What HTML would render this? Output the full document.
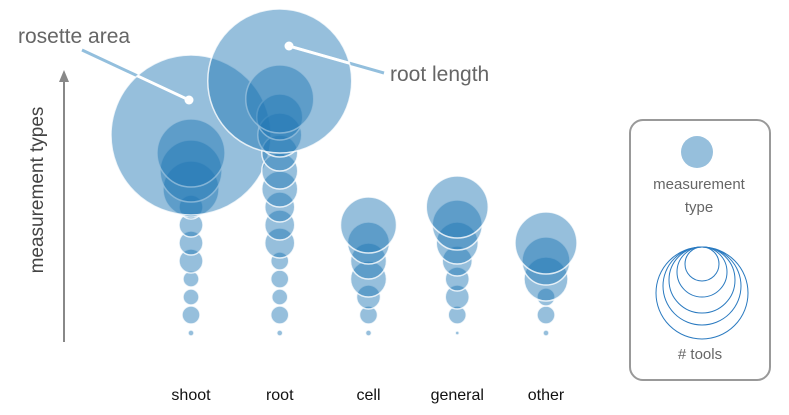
<!DOCTYPE html>
<html><head><meta charset="utf-8"><style>
body{margin:0;background:#fff}
svg{display:block;font-family:"Liberation Sans",sans-serif}
</style></head><body>
<svg id="chart" width="789" height="415">
<defs>
<clipPath id="clipRos"><circle id="cr" cx="0" cy="0" r="0"/></clipPath>
<clipPath id="clipRoot"><circle id="ct" cx="0" cy="0" r="0"/></clipPath>
</defs>
<line x1="64" y1="342" x2="64" y2="80" stroke="#888" stroke-width="2"/>
<polygon points="64,70 59,82 69,82" fill="#888"/>
<text x="43" y="190" transform="rotate(-90 43 190)" text-anchor="middle" font-size="19" fill="#444">measurement types</text>
<line x1="82" y1="50" x2="189" y2="100" stroke="#93bfdd" stroke-width="3"/>
<line x1="289" y1="46" x2="384" y2="73" stroke="#93bfdd" stroke-width="3"/>
<g id="marks"></g>
<g clip-path="url(#clipRos)"><line x1="82" y1="50" x2="189" y2="100" stroke="#fff" stroke-width="3"/></g>
<g clip-path="url(#clipRoot)"><line x1="289" y1="46" x2="384" y2="73" stroke="#fff" stroke-width="3"/></g>
<circle cx="189" cy="100" r="4.5" fill="#fff"/>
<circle cx="289" cy="46" r="4.5" fill="#fff"/>
<text x="18" y="43" font-size="21" fill="#666">rosette area</text>
<text x="390" y="81" font-size="21" fill="#666">root length</text>
<g id="xlabels" font-size="16" fill="#111" text-anchor="middle"></g>
<g>
<rect x="630" y="120" width="140" height="260" rx="13" fill="none" stroke="#999" stroke-width="2"/>
<circle cx="697" cy="152" r="16" fill="#1f77b4" fill-opacity="0.47"/>
<text x="699" y="189" font-size="15" fill="#666" text-anchor="middle">measurement</text>
<text x="699" y="212" font-size="15" fill="#666" text-anchor="middle">type</text>
<g fill="none" stroke="#2a7ac0" stroke-width="1">
<circle cx="702" cy="293" r="46"/>
<circle cx="702" cy="286" r="39"/>
<circle cx="702" cy="280" r="33"/>
<circle cx="702" cy="272" r="25"/>
<circle cx="702" cy="264" r="17"/>
</g>
<text x="700" y="359" font-size="15" fill="#666" text-anchor="middle"># tools</text>
</g>
</svg>
<script>
const categories = ["shoot","root","cell","general","other"];
// bubble sizes (radius units) per measurement type, bottom to top
const shootSizes = [3,9,8,8,12,12,12,12,28,31,34,80];
const rootSizes = [3,9,8,9,9,15,15,15,18,18,18,22,23,34,72];
const cellSizes = [3,9,12,18,18,21,28];
const generalSizes = [2,9,12,12,15,21,25,31];
const otherSizes = [3,9,9,22,24,31];
const series = [shootSizes,rootSizes,cellSizes,generalSizes,otherSizes];

const xScale = i => 191 + i*88.75;
const yScale = k => 333 - k*18;
const rScale = v => v;
const NS = "http://www.w3.org/2000/svg";
const g = document.getElementById("marks");
const xl = document.getElementById("xlabels");
series.forEach((arr, i) => {
  arr.forEach((v, k) => {
    const c = document.createElementNS(NS, "circle");
    c.setAttribute("cx", xScale(i));
    c.setAttribute("cy", yScale(k));
    c.setAttribute("r", rScale(v));
    c.setAttribute("fill", "#1f77b4");
    c.setAttribute("fill-opacity", "0.47");
    c.setAttribute("stroke", "#fff");
    c.setAttribute("stroke-opacity", "0.8");
    c.setAttribute("stroke-width", "1.5");
    
    
    g.appendChild(c);
  });
  const t = document.createElementNS(NS, "text");
  t.setAttribute("x", xScale(i));
  t.setAttribute("y", 400);
  t.textContent = categories[i];
  
  
  xl.appendChild(t);
});
function setClip(id, i, arr) {
  const k = arr.length - 1;
  const c = document.getElementById(id);
  c.setAttribute("cx", xScale(i));
  c.setAttribute("cy", yScale(k));
  c.setAttribute("r", rScale(arr[k]));
}
setClip("cr", 0, shootSizes);
setClip("ct", 1, rootSizes);
</script>
</body></html>
